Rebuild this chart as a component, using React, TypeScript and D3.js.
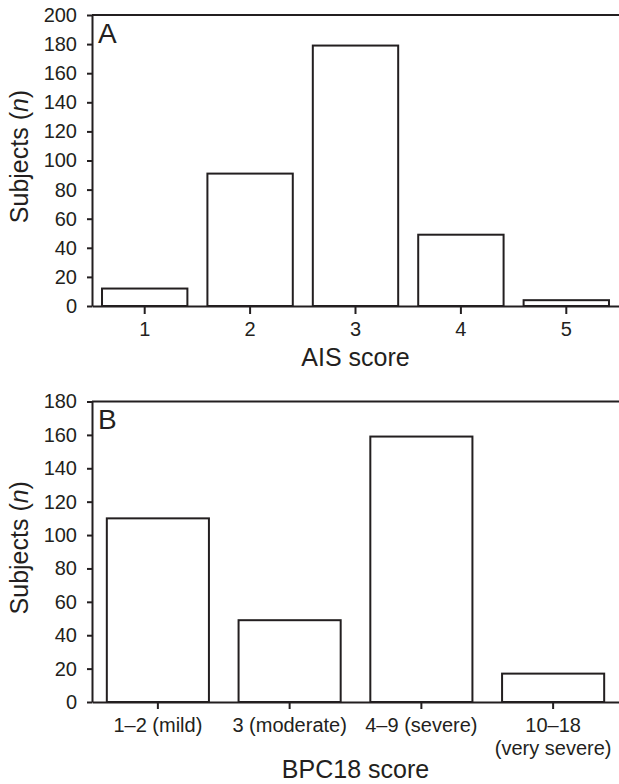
import React, { useEffect, useRef } from "react"
import * as d3 from "d3"

// panel A: AIS score
const aisCategories = ["1", "2", "3", "4", "5"]
const aisValues = [12, 91, 179, 49, 4]
const aisTicks = [0, 20, 40, 60, 80, 100, 120, 140, 160, 180, 200]

// panel B: BPC18 score
const bpcCategories = ["1–2 (mild)", "3 (moderate)", "4–9 (severe)", "10–18\n(very severe)"]
const bpcValues = [110, 49, 159, 17]
const bpcTicks = [0, 20, 40, 60, 80, 100, 120, 140, 160, 180]

const INK = "#231f20"
const FONT = "'Liberation Sans', Arial, Helvetica, sans-serif"
const WIDTH = 619
const HEIGHT = 784

const drawPanel = (svg, opts) => {
  const { cats, vals, ticks, yMax, top, bottom, left, right, padding, letter, title, titleY, tickLen } = opts

  const x = d3.scaleBand().domain(cats).range([left, right]).paddingInner(padding).paddingOuter(padding / 2)
  const y = d3.scaleLinear().domain([0, yMax]).range([bottom, top])

  const g = svg.append("g")

  // bars
  g.selectAll("rect.bar")
    .data(cats.map((c, i) => ({ c, v: vals[i] })))
    .enter()
    .append("rect")
    .attr("class", "bar")
    .attr("x", d => x(d.c))
    .attr("width", x.bandwidth())
    .attr("y", d => y(d.v))
    .attr("height", d => y(0) - y(d.v))
    .attr("fill", "white")
    .attr("stroke", INK)
    .attr("stroke-width", 2)

  // top border line
  g.append("line")
    .attr("x1", left)
    .attr("x2", right)
    .attr("y1", top)
    .attr("y2", top)
    .attr("stroke", INK)
    .attr("stroke-width", 2)

  // y axis
  const yAxis = g
    .append("g")
    .attr("transform", `translate(${left},0)`)
    .call(d3.axisLeft(y).tickValues(ticks).tickSize(5).tickSizeOuter(0).tickPadding(10))
  yAxis.selectAll("path, line").attr("stroke", INK).attr("stroke-width", 2)
  yAxis.selectAll("text").attr("fill", INK).style("font-size", "20px").style("font-family", FONT)

  // x axis
  const xAxis = g
    .append("g")
    .attr("transform", `translate(0,${bottom})`)
    .call(d3.axisBottom(x).tickSize(tickLen).tickSizeOuter(0))
  xAxis.selectAll("path, line").attr("stroke", INK).attr("stroke-width", 2)
  xAxis.selectAll("text").remove()
  xAxis
    .selectAll(".tick")
    .append("text")
    .attr("fill", INK)
    .attr("text-anchor", "middle")
    .style("font-size", "20px")
    .style("font-family", FONT)
    .each(function (d) {
      const lines = String(d).split("\n")
      lines.forEach((ln, i) => {
        d3.select(this).append("tspan").attr("x", 0).attr("y", 30 + i * 23).text(ln)
      })
    })

  // x title
  g.append("text")
    .attr("x", (left + right) / 2)
    .attr("y", titleY)
    .attr("text-anchor", "middle")
    .attr("fill", INK)
    .style("font-size", "25px")
    .style("font-family", FONT)
    .text(title)

  // y title
  const yt = g
    .append("text")
    .attr("transform", `translate(28,${(top + bottom) / 2 - 4}) rotate(-90)`)
    .attr("text-anchor", "middle")
    .attr("fill", INK)
    .style("font-size", "25px")
    .style("font-family", FONT)
  yt.append("tspan").text("Subjects (")
  yt.append("tspan").style("font-style", "italic").text("n")
  yt.append("tspan").text(")")

  // panel letter
  g.append("text")
    .attr("x", left + 6)
    .attr("y", top + 27.5)
    .attr("fill", INK)
    .style("font-size", "28px")
    .style("font-family", FONT)
    .text(letter)
}

export default function App() {
  const ref = useRef(null)

  useEffect(() => {
    const svg = d3.select(ref.current)
    svg.selectAll("*").remove()

    drawPanel(svg, {
      cats: aisCategories,
      vals: aisValues,
      ticks: aisTicks,
      yMax: 200,
      top: 15,
      bottom: 306,
      left: 92,
      right: WIDTH,
      padding: 0.19,
      letter: "A",
      title: "AIS score",
      titleY: 365.5,
      tickLen: 8,
    })

    drawPanel(svg, {
      cats: bpcCategories,
      vals: bpcValues,
      ticks: bpcTicks,
      yMax: 180,
      top: 401.5,
      bottom: 702,
      left: 92,
      right: WIDTH,
      padding: 0.225,
      letter: "B",
      title: "BPC18 score",
      titleY: 778,
      tickLen: 7,
    })
  }, [])

  return (
    <svg
      ref={ref}
      width={WIDTH}
      height={HEIGHT}
      style={{ position: "absolute", left: 0, top: 0, background: "white" }}
    ></svg>
  )
}
